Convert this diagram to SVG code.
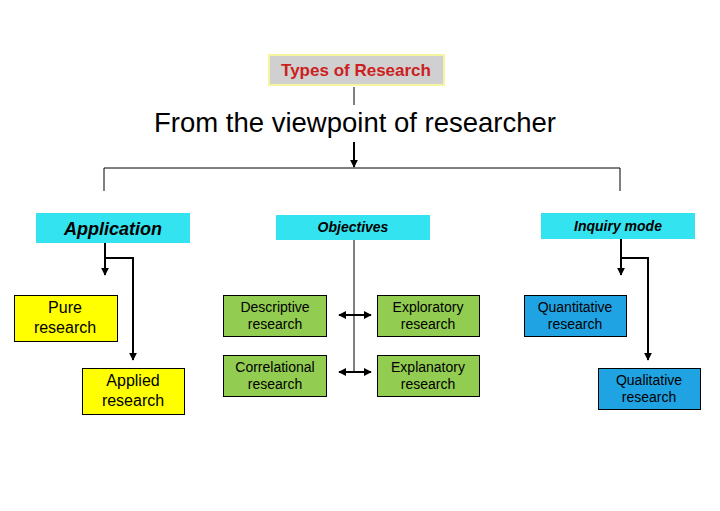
<svg xmlns="http://www.w3.org/2000/svg" width="720" height="511" viewBox="0 0 720 511">
<style>
text{font-family:"Liberation Sans",Arial,sans-serif;text-anchor:middle;fill:#000}
.t{font-size:14px}
.h{font-weight:bold;font-style:italic}
.ln{fill:none;stroke:#000;stroke-width:1}
.la{fill:none;stroke:#000;stroke-width:2}
.cy{fill:#33e3f0}
.ye{fill:#ffff00;stroke:#000;stroke-width:1}
.gr{fill:#92cc50;stroke:#000;stroke-width:1}
.bl{fill:#1fa3e3;stroke:#000;stroke-width:1}
</style>
<defs>
<marker id="ah" viewBox="0 0 10 10" refX="9" refY="5" markerWidth="4" markerHeight="4" orient="auto-start-reverse" markerUnits="strokeWidth">
<path d="M0,0 L10,5 L0,10 z" fill="#000"/>
</marker>
</defs>
<rect width="720" height="511" fill="#fff"/>
<g id="connectors">
<path class="ln" d="M354,87 V105"/>
<path class="la" d="M354,142 V167" marker-end="url(#ah)"/>
<path class="ln" d="M104,191 V168 H620 V191"/>
<path class="la" d="M105,243 V275" marker-end="url(#ah)"/>
<path class="la" d="M105,258 H133 V360" marker-end="url(#ah)"/>
<path class="ln" d="M354,240 V373"/>
<path class="la" d="M339,315 H371" marker-start="url(#ah)" marker-end="url(#ah)"/>
<path class="la" d="M339,372 H371" marker-start="url(#ah)" marker-end="url(#ah)"/>
<path class="la" d="M621,239 V275" marker-end="url(#ah)"/>
<path class="la" d="M621,258 H648 V360" marker-end="url(#ah)"/>
</g>
<g id="title">
<rect x="269" y="55" width="175" height="30" fill="#d0d0d0" stroke="#f5f5a0" stroke-width="2"/>
<text x="356" y="76" style="font-size:17px;font-weight:bold;fill:#cc1f1f">Types of Research</text>
</g>
<g id="viewpoint">
<text x="355" y="132" style="font-size:27.5px">From the viewpoint of researcher</text>
</g>
<g id="application">
<rect class="cy" x="36" y="213" width="154" height="30"/>
<text class="h" x="113" y="235" style="font-size:18px">Application</text>
</g>
<g id="objectives">
<rect class="cy" x="276" y="215" width="154" height="25"/>
<text class="h" x="353" y="232" style="font-size:14px">Objectives</text>
</g>
<g id="inquiry">
<rect class="cy" x="541" y="213" width="154" height="26"/>
<text class="h" x="618" y="231" style="font-size:14px">Inquiry mode</text>
</g>
<g id="pure">
<rect class="ye" x="14.5" y="295.5" width="103" height="46"/>
<text x="65" y="313" style="font-size:16px">Pure</text>
<text x="65" y="333" style="font-size:16px">research</text>
</g>
<g id="applied">
<rect class="ye" x="82.5" y="368.5" width="102" height="46"/>
<text x="133" y="386" style="font-size:16px">Applied</text>
<text x="133" y="406" style="font-size:16px">research</text>
</g>
<g id="descriptive">
<rect class="gr" x="223.5" y="295.5" width="103" height="41"/>
<text class="t" x="275" y="312">Descriptive</text>
<text class="t" x="275" y="329">research</text>
</g>
<g id="exploratory">
<rect class="gr" x="377.5" y="295.5" width="102" height="41"/>
<text class="t" x="428" y="312">Exploratory</text>
<text class="t" x="428" y="329">research</text>
</g>
<g id="correlational">
<rect class="gr" x="223.5" y="355.5" width="103" height="41"/>
<text class="t" x="275" y="372">Correlational</text>
<text class="t" x="275" y="389">research</text>
</g>
<g id="explanatory">
<rect class="gr" x="377.5" y="355.5" width="102" height="41"/>
<text class="t" x="428" y="372">Explanatory</text>
<text class="t" x="428" y="389">research</text>
</g>
<g id="quantitative">
<rect class="bl" x="524.5" y="295.5" width="102" height="41"/>
<text class="t" x="575" y="312">Quantitative</text>
<text class="t" x="575" y="329">research</text>
</g>
<g id="qualitative">
<rect class="bl" x="598.5" y="368.5" width="102" height="41"/>
<text class="t" x="649" y="385">Qualitative</text>
<text class="t" x="649" y="402">research</text>
</g>
</svg>
